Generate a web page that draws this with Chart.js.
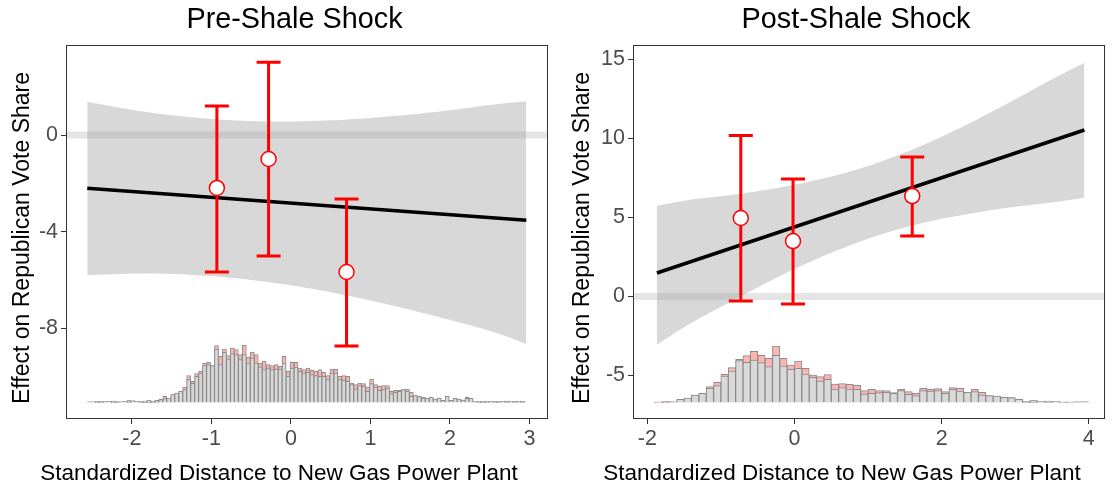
<!DOCTYPE html>
<html>
<head>
<meta charset="utf-8">
<script src="https://cdn.jsdelivr.net/npm/chart.js@4.4.0/dist/chart.umd.min.js"></script>
<style>
  body { margin: 0; background: #fff; }
  #wrap { position: relative; width: 1114px; height: 489px; }
  canvas { position: absolute; top: 0; }
</style>
</head>
<body>
<div id="wrap">
  <canvas id="preChart" width="557" height="489" style="left:0"></canvas>
  <canvas id="postChart" width="557" height="489" style="left:557px"></canvas>
</div>
<script>
const xTitle = 'Standardized Distance to New Gas Power Plant';
const yTitle = 'Effect on Republican Vote Share';

// ---- Pre-Shale panel data ----
const preXTicks = [-2, -1, 0, 1, 2, 3];
const preYTicks = [0, -4, -8];
const preEstX = [-0.93, -0.28, 0.70];
const preEst = [-2.19, -0.99, -5.67];
const preLo = [-5.67, -5.01, -8.74];
const preHi = [1.2, 3.02, -2.65];
const preFitX = [-2.56, 2.96];
const preFitY = [-2.2, -3.53];
const preBandX = [-2.56, -2, -1.5, -1, -0.5, 0, 0.5, 1, 1.5, 2, 2.5, 2.96];
const preBandHi = [1.38, 1.05, 0.82, 0.67, 0.58, 0.56, 0.61, 0.71, 0.85, 1.03, 1.25, 1.4];
const preBandLo = [-5.8, -5.74, -5.75, -5.84, -6.0, -6.22, -6.51, -6.85, -7.24, -7.66, -8.11, -8.65];
const preBinStart = -2.56, preBinWidth = 0.05;
const preHistGray = [0.5,0.5,0.7,0.7,1,1,1.3,0.7,0.5,1,
  1.7,1.5,1,0.7,1.3,1.7,1.3,1.7,2.7,3.7,
  4.3,7.7,9.3,11,12.7,22.7,19,26,29.3,36.7,
  37.7,36.7,53.3,37.7,50,43.3,48.7,47.7,42.7,47.7,
  39.3,44.3,39.3,35.3,32.7,34.3,32.7,33.3,33.3,39.3,
  26,34.3,35.3,31,29.3,30,27.7,26.7,26,26,
  22.7,29.3,29.3,22.7,22,21,17.7,13.3,16.7,16,
  11,18.7,15.3,12,12.7,14.3,8.7,10,11,12.7,
  11,6,6.7,6,4.3,4.3,5,3.3,4.3,2,
  6,2,4,3.3,2.3,4,4,1,0.7,1.3,
  0.7,1,0.7,0.7,1,1.3,1,0.7,1,0.7];
const preHistPink = [0.5,0.5,0.7,0.7,1,1,1.3,0.7,0.5,1,
  1.7,1.5,1,0.7,1.3,1.7,1.3,2,3,6,
  4.3,7.7,9.3,11,15.3,26.7,21,28.7,31,39.3,
  40,36.7,56.7,46,53.3,46.7,54.3,52.7,47.7,57,
  45.3,50.3,47.7,39.3,41,37.7,36.7,37.7,36,46,
  31,40,40,34.3,32.7,34.3,32,31,32.7,30,
  26.7,33.3,33.3,26,26.7,26,19.3,17.7,19.3,18.7,
  15.3,23.3,17.7,16,16.7,16.7,11,12,12,12.7,
  13.3,10,6.7,6,5.3,4.3,5,3.3,4.3,2,
  6,2,4,3.3,2.3,5,4,1,0.7,1.3,
  0.7,1,0.7,0.7,1,1.3,1,0.7,1,0.7];

// ---- Post-Shale panel data ----
const postXTicks = [-2, 0, 2, 4];
const postYTicks = [15, 10, 5, 0, -5];
const postEstX = [-0.73, -0.02, 1.60];
const postEst = [4.97, 3.51, 6.36];
const postLo = [-0.28, -0.47, 3.83];
const postHi = [10.2, 7.44, 8.83];
const postFitX = [-1.87, 3.94];
const postFitY = [1.49, 10.54];
const postBandX = [-1.87, -1.5, -1, -0.5, 0, 0.5, 1, 1.5, 2, 2.5, 3, 3.5, 3.94];
const postBandHi = [5.75, 6.07, 6.34, 6.66, 7.07, 7.59, 8.26, 9.11, 10.12, 11.26, 12.48, 13.75, 14.8];
const postBandLo = [-3.05, -1.94, -0.65, 0.58, 1.74, 2.77, 3.66, 4.37, 4.92, 5.34, 5.68, 5.95, 6.25];
const postBinStart = -1.9, postBinWidth = 0.1;
const postHistGray = [0.3,0.7,0.5,3,4.3,7.3,9,14,16.7,26.3,
  31.3,41.7,40,42.3,39.7,35.7,47,36.3,33,34,
  28.3,25,21.3,23,13.3,14.7,13.3,13,8.3,9,
  9.7,10,9,11.7,8,6.7,11.7,11.3,11.7,9,
  13,11.3,10,10.7,7.3,6.7,6.3,5,4.7,3,
  0.7,1.7,1,1.3,1,0.2,0.2,0.5,0.5];
const postHistPink = [0.3,0.7,0.5,3,4.3,7.3,9,15.7,20,28,
  34.7,43,46.7,51,47,44,56.3,44,37.3,41.3,
  34,27.3,25.7,27.7,18.3,18.7,18,17,11.7,13,
  11.7,11.7,9.7,13,10.7,9,14,13,13.7,10.7,
  14.7,14,10,13,10,6.7,6.3,5,4.7,3,
  0.7,1.7,1,1.3,1,0.2,0.2,0.5,0.5];

const FONT = '"Liberation Sans", Arial, Helvetica, sans-serif';
Chart.defaults.font.family = FONT;

function makePanel(id, o) {
  const bins = o.gray.map((g, i) => o.binStart + o.binWidth * (i + 0.5));

  const errorBars = {
    id: 'errorBars',
    afterDatasetDraw(chart, args) {
      if (args.index !== 5) return;
      const ctx = chart.ctx, xs = chart.scales.x, ys = chart.scales.y;
      ctx.save();
      ctx.strokeStyle = '#ff0000';
      ctx.lineWidth = 3;
      o.estX.forEach((x, i) => {
        const px = xs.getPixelForValue(x);
        const top = ys.getPixelForValue(o.hi[i]);
        const bot = ys.getPixelForValue(o.lo[i]);
        ctx.beginPath();
        ctx.moveTo(px, top); ctx.lineTo(px, bot);
        ctx.moveTo(px - 12, top); ctx.lineTo(px + 12, top);
        ctx.moveTo(px - 12, bot); ctx.lineTo(px + 12, bot);
        ctx.stroke();
      });
      ctx.restore();
    }
  };

  // panel border + titles
  const frame = {
    id: 'frame',
    afterDraw(chart) {
      const a = chart.chartArea, ctx = chart.ctx;
      ctx.save();
      ctx.strokeStyle = '#333333';
      ctx.lineWidth = 1;
      ctx.strokeRect(Math.round(a.left) + 0.5, Math.round(a.top) + 0.5,
        Math.round(a.right - a.left) - 1, Math.round(a.bottom - a.top) - 1);
      ctx.fillStyle = '#000000';
      ctx.textAlign = 'center';
      ctx.textBaseline = 'middle';
      ctx.font = '28.8px ' + FONT;
      ctx.fillText(o.title, o.titleX, 19.8);
      ctx.font = '22.5px ' + FONT;
      ctx.fillText(xTitle, o.xTitleX, 474);
      ctx.translate(o.yTitleX, 238);
      ctx.rotate(-Math.PI / 2);
      ctx.font = '23px ' + FONT;
      ctx.fillText(yTitle, 0, 0);
      ctx.restore();
    }
  };

  const tickFont = { size: 21.5 };
  return new Chart(document.getElementById(id), {
    type: 'scatter',
    data: {
      datasets: [
        { type: 'line', data: o.bandX.map((x, i) => ({ x, y: o.bandHi[i] })),
          borderWidth: 0, pointRadius: 0, tension: 0.3, fill: '+1',
          backgroundColor: 'rgba(153,153,153,0.38)', order: 10 },
        { type: 'line', data: o.bandX.map((x, i) => ({ x, y: o.bandLo[i] })),
          borderWidth: 0, pointRadius: 0, tension: 0.3, fill: false, order: 10 },
        { type: 'line', data: [{ x: o.xMin, y: 0 }, { x: o.xMax, y: 0 }],
          borderColor: 'rgba(150,150,150,0.25)', borderWidth: 7, pointRadius: 0, order: 9 },
        { type: 'bar', yAxisID: 'yh', data: bins.map((x, i) => ({ x, y: o.pink[i] })),
          backgroundColor: '#ffb4b4', borderColor: '#8c8c8c', borderWidth: 1,
          barPercentage: 1, categoryPercentage: 1, grouped: false, order: 8 },
        { type: 'bar', yAxisID: 'yh', data: bins.map((x, i) => ({ x, y: o.gray[i] })),
          backgroundColor: '#d9d9d9', borderColor: '#8c8c8c', borderWidth: 1,
          barPercentage: 1, categoryPercentage: 1, grouped: false, order: 7 },
        { type: 'line', data: o.fitX.map((x, i) => ({ x, y: o.fitY[i] })),
          borderColor: '#000000', borderWidth: 3.5, pointRadius: 0, order: 5 },
        { data: o.estX.map((x, i) => ({ x, y: o.est[i] })),
          pointRadius: 7.5, pointBackgroundColor: '#ffffff', pointBorderColor: '#ff0000',
          pointBorderWidth: 1.5, order: 1 }
      ]
    },
    options: {
      responsive: false,
      devicePixelRatio: 1,
      animation: false,
      layout: { padding: { left: 0, right: o.padRight, top: 45, bottom: 0 } },
      plugins: {
        legend: { display: false },
        tooltip: { enabled: false },
        title: { display: false }
      },
      scales: {
        x: {
          type: 'linear', min: o.xMin, max: o.xMax, offset: false,
          afterBuildTicks: s => { s.ticks = o.xTicks.map(v => ({ value: v })); },
          afterFit: s => { s.height = 70; },
          ticks: { font: tickFont, color: '#4d4d4d', padding: 2, maxRotation: 0, autoSkip: false },
          grid: { offset: false, drawOnChartArea: false, tickLength: 5, color: '#333333' },
          border: { display: false }
        },
        y: {
          type: 'linear', min: o.yMin, max: o.yMax,
          afterBuildTicks: s => { s.ticks = o.yTicks.map(v => ({ value: v })); },
          afterFit: s => { s.width = o.yWidth; },
          ticks: { font: tickFont, color: '#4d4d4d', padding: 3, autoSkip: false },
          grid: { drawOnChartArea: false, tickLength: 5, color: '#333333' },
          border: { display: false }
        },
        yh: { type: 'linear', display: false, min: -16.7, max: 357.3 }
      }
    },
    plugins: [errorBars, frame]
  });
}

makePanel('preChart', {
  title: 'Pre-Shale Shock', titleX: 294.5, xTitleX: 279, yTitleX: 22.5,
  xMin: -2.827, xMax: 3.233, yMin: -11.76, yMax: 3.73,
  xTicks: preXTicks, yTicks: preYTicks, yWidth: 66, padRight: 5,
  estX: preEstX, est: preEst, lo: preLo, hi: preHi,
  fitX: preFitX, fitY: preFitY,
  bandX: preBandX, bandHi: preBandHi, bandLo: preBandLo,
  binStart: preBinStart, binWidth: preBinWidth, gray: preHistGray, pink: preHistPink
});

makePanel('postChart', {
  title: 'Post-Shale Shock', titleX: 299, xTitleX: 285, yTitleX: 26,
  xMin: -2.195, xMax: 4.22, yMin: -7.75, yMax: 15.92,
  xTicks: postXTicks, yTicks: postYTicks, yWidth: 76, padRight: 6,
  estX: postEstX, est: postEst, lo: postLo, hi: postHi,
  fitX: postFitX, fitY: postFitY,
  bandX: postBandX, bandHi: postBandHi, bandLo: postBandLo,
  binStart: postBinStart, binWidth: postBinWidth, gray: postHistGray, pink: postHistPink
});
</script>
</body>
</html>
